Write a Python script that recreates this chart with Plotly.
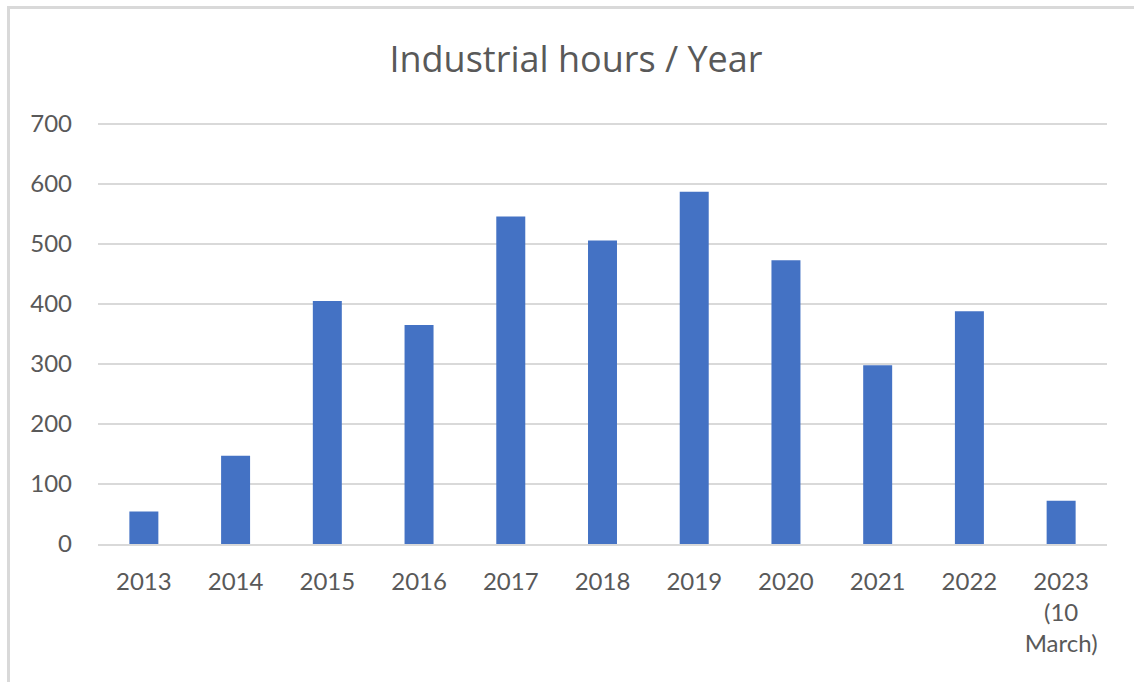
import plotly.graph_objects as go

# Yearly industrial hours
years = ["2013", "2014", "2015", "2016", "2017", "2018", "2019", "2020",
         "2021", "2022", "2023<br>(10<br>March)"]
hours = [54, 147, 405, 365, 546, 506, 587, 473, 298, 388, 72]
y_ticks = [0, 100, 200, 300, 400, 500, 600, 700]

W, H = 1134, 682
L, R, T, B = 98, 27, 122, 138
plot_w, plot_h = W - L - R, H - T - B
# 0.6 px per hour keeps 700 at the same height while leaving room for its gridline
Y_MAX = plot_h / 0.6

TEXT = "#595959"
GRID = "#d9d9d9"
FONT = "Lato, 'Open Sans', sans-serif"
TITLE_FONT = "'Open Sans', Lato, sans-serif"

fig = go.Figure(
    go.Bar(
        x=years,
        y=hours,
        marker=dict(color="#4472C4", line=dict(width=0)),
        hoverinfo="x+y",
    )
)

def px_x(px):
    return (px - L) / plot_w

def px_y(py):
    return (H - B - py) / plot_h

# light chart-area frame along the top and left edges
frame = [
    dict(type="line", xref="paper", yref="paper",
         x0=px_x(7), x1=px_x(W), y0=px_y(7.5), y1=px_y(7.5),
         line=dict(color=GRID, width=3)),
    dict(type="line", xref="paper", yref="paper",
         x0=px_x(8.5), x1=px_x(8.5), y0=px_y(6), y1=px_y(H),
         line=dict(color=GRID, width=3)),
]

fig.update_layout(
    width=W,
    height=H,
    margin=dict(l=L, r=R, t=T, b=B, pad=0),
    paper_bgcolor="white",
    plot_bgcolor="white",
    showlegend=False,
    bargap=0.684,
    shapes=frame,
    font=dict(family=FONT, color=TEXT, size=24),
    title=dict(
        text="Industrial hours / Year",
        x=576 / W,
        xanchor="center",
        xref="container",
        y=1 - 59 / H,
        yref="container",
        yanchor="middle",
        font=dict(family=TITLE_FONT, size=36, color=TEXT),
    ),
    xaxis=dict(
        type="category",
        showgrid=False,
        showline=True,
        linecolor=GRID,
        linewidth=2,
        ticks="",
        tickfont=dict(size=24, color=TEXT),
        ticklabelstandoff=15,
    ),
    yaxis=dict(
        range=[0, Y_MAX],
        tickvals=y_ticks,
        showgrid=True,
        gridcolor=GRID,
        gridwidth=2,
        zeroline=False,
        showline=False,
        ticks="",
        tickfont=dict(size=24, color=TEXT),
        ticklabelstandoff=25,
    ),
)

fig.write_html("out.html")
